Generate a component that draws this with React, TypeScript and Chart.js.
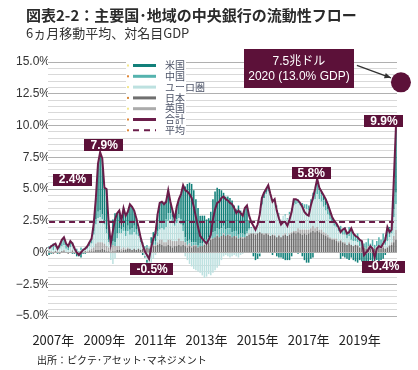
import React, { useEffect, useRef } from 'react';
import { Chart, registerables } from 'chart.js';

Chart.register(...registerables);

// ---- categories: monthly, Nov 2006 .. Jun 2020 ----
const FIRST_YEAR = 2006;
const FIRST_MONTH = 11;
const MONTH_COUNT = 164;
const MONTHS: string[] = [];
for (let k = 0; k < MONTH_COUNT; k++) {
  const m0 = FIRST_MONTH - 1 + k;
  const y = FIRST_YEAR + Math.floor(m0 / 12);
  const m = (m0 % 12) + 1;
  MONTHS.push(`${y}-${m < 10 ? '0' + m : m}`);
}

const TICK_KEYS = ['2007-01', '2009-01', '2011-01', '2013-01', '2015-01', '2017-01', '2019-01'];
const TICK_TEXT = ['2007年', '2009年', '2011年', '2013年', '2015年', '2017年', '2019年'];

// ---- series (% of nominal GDP, 6m moving average) ----
const TOTAL = [
  0.3, 0.5, 0.6, 0.7, 0.3, 0.6, 1.0, 1.2, 0.7, 0.5, 0.9, 0.7,
  0.3, 0.0, -0.2, 0.0, 0.2, 0.3, 0.5, 0.8, 1.1, 2.3, 4.3, 7.0,
  7.9, 7.4, 5.1, 5.0, 2.3, 0.7, 1.7, 2.6, 3.1, 3.3, 2.5, 3.5,
  2.9, 3.2, 3.8, 3.6, 3.3, 2.7, 2.0, 1.2, 0.6, 0.1, -0.2, -0.5,
  0.4, 1.1, 1.5, 3.0, 3.9, 4.0, 3.8, 4.0, 4.9, 4.0, 3.3, 2.6,
  3.6, 4.2, 4.6, 5.3, 4.9, 4.8, 4.6, 4.3, 3.6, 2.8, 2.0, 1.3,
  1.1, 0.9, 0.7, 1.0, 1.4, 2.6, 3.4, 3.9, 4.0, 4.3, 4.4, 4.2,
  4.1, 3.9, 3.8, 3.5, 3.1, 3.3, 3.1, 2.9, 3.5, 3.7, 2.9, 2.4,
  2.1, 1.8, 2.2, 3.0, 4.3, 4.7, 5.0, 5.3, 4.6, 4.0, 4.2, 3.3,
  2.7, 2.2, 2.4, 2.4, 2.1, 2.6, 3.2, 4.2, 4.2, 4.1, 3.9, 3.6,
  3.2, 3.0, 2.9, 3.7, 4.3, 5.0, 5.8, 5.1, 4.8, 4.5, 4.2, 3.8,
  3.3, 2.8, 2.5, 2.3, 2.0, 1.6, 1.8, 1.9, 1.5, 1.6, 1.9, 1.5,
  1.3, 1.2, 1.0, 0.9, -0.2, 0.0, 0.2, 0.5, 0.3, -0.4, 0.3, 0.5,
  0.4, 0.7, 1.0, 2.0, 1.6, 1.8, 5.7, 9.9,
];

const US = [
  -0.2, -0.1, 0.2, 0.0, -0.1, 0.1, 0.1, 0.2, 0.1, 0.1, 0.1, -0.1,
  -0.1, -0.2, -0.2, -0.4, -0.1, -0.1, 0.0, 0.1, 0.1, 0.6, 1.7, 3.8,
  4.6, 4.4, 2.6, 3.2, 1.3, 0.6, 1.7, 2.3, 1.6, 1.4, 0.7, 1.5,
  1.2, 1.1, 2.0, 1.7, 1.2, 0.9, 0.3, 0.1, -0.2, -0.1, -0.2, 0.0,
  0.5, 0.7, 0.8, 1.3, 1.6, 1.6, 1.5, 1.4, 1.8, 0.9, 0.5, 0.1,
  1.0, 1.2, 2.0, 3.2, 4.0, 4.5, 4.5, 4.6, 4.1, 3.4, 2.9, 2.2,
  2.2, 1.9, 1.6, 1.5, 1.7, 2.6, 3.1, 3.2, 3.2, 3.0, 2.6, 2.6,
  2.5, 2.4, 2.5, 2.0, 1.7, 2.3, 1.8, 1.5, 2.1, 2.0, 0.6, 0.0,
  -0.3, -0.6, -0.4, -0.2, 0.5, 0.4, 0.3, 0.2, 0.0, -0.2, 0.0, -0.3,
  -0.4, -0.4, -0.5, -0.6, -0.6, -0.6, -0.3, 0.3, 0.1, -0.1, 0.0, -0.3,
  -0.6, -0.8, -0.8, -0.5, -0.4, 0.1, 0.4, 0.2, 0.2, 0.4, 0.5, 0.4,
  0.4, 0.3, 0.2, 0.2, 0.0, -0.5, -0.3, -0.4, -0.5, -0.6, -0.4, -0.6,
  -0.7, -0.8, -0.6, -0.7, -0.8, -0.7, -0.9, -0.6, -0.7, -0.9, -0.6, -0.7,
  -0.6, -0.5, -0.2, 0.3, 0.1, 0.2, 2.3, 5.2,
];

const CHINA = [
  0.2, 0.2, 0.3, 0.3, 0.2, 0.3, 0.4, 0.4, 0.3, 0.3, 0.4, 0.3,
  0.2, 0.2, 0.1, 0.2, 0.2, 0.1, 0.2, 0.2, 0.3, 0.3, 0.4, 0.5,
  0.5, 0.4, 0.3, 0.3, 0.2, 0.3, 0.3, 0.3, 0.4, 0.4, 0.3, 0.3,
  0.4, 0.4, 0.4, 0.5, 0.5, 0.4, 0.4, 0.3, 0.3, 0.2, 0.2, 0.1,
  0.2, 0.3, 0.3, 0.4, 0.5, 0.5, 0.5, 0.6, 0.6, 0.5, 0.4, 0.4,
  0.3, 0.3, 0.4, 0.4, 0.4, 0.3, 0.3, 0.3, 0.2, 0.2, 0.2, 0.2,
  0.2, 0.3, 0.3, 0.4, 0.4, 0.5, 0.5, 0.5, 0.6, 0.6, 0.6, 0.5,
  0.5, 0.5, 0.4, 0.4, 0.4, 0.3, 0.3, 0.3, 0.2, 0.2, 0.1, 0.1,
  0.0, 0.0, -0.1, -0.1, 0.1, 0.0, 0.1, 0.2, 0.1, 0.0, 0.0, 0.1,
  0.1, 0.0, 0.0, 0.1, 0.1, 0.2, 0.2, 0.2, 0.3, 0.3, 0.2, 0.3,
  0.3, 0.4, 0.4, 0.5, 0.6, 0.7, 0.8, 0.7, 0.6, 0.5, 0.4, 0.4,
  0.3, 0.2, 0.2, 0.1, 0.3, 0.4, 0.4, 0.6, 0.5, 0.7, 0.9, 0.6,
  0.5, 0.7, 0.5, 0.4, 0.3, 0.5, 0.6, 0.4, 0.5, 0.3, 0.4, 0.6,
  0.5, 0.7, 0.6, 0.8, 0.7, 0.6, 0.6, 0.9,
];

const EURO = [
  0.2, 0.3, 0.2, 0.3, 0.1, 0.3, 0.4, 0.4, 0.3, 0.2, 0.4, 0.3,
  0.2, 0.1, 0.0, 0.1, 0.1, 0.2, 0.2, 0.3, 0.4, 1.0, 1.5, 1.9,
  2.0, 1.8, 1.5, 1.0, 0.4, -0.6, -0.9, -0.5, 0.6, 1.0, 1.2, 1.3,
  1.0, 1.3, 1.1, 1.2, 1.3, 1.2, 1.0, 0.6, 0.2, -0.3, -0.6, -0.9,
  -0.8, -0.5, -0.2, 0.5, 0.8, 0.9, 1.0, 1.2, 1.5, 1.6, 1.5, 1.2,
  1.4, 1.6, 1.3, 0.8, -0.3, -0.6, -0.9, -1.1, -1.3, -1.4, -1.5, -1.6,
  -1.8, -2.0, -1.9, -1.7, -1.8, -1.6, -1.4, -1.2, -1.0, -0.6, -0.3, -0.2,
  -0.3, -0.4, -0.3, -0.2, -0.3, -0.4, -0.2, -0.1, 0.0, 0.2, 0.3, 0.4,
  0.5, 0.6, 0.8, 1.0, 2.2, 2.8, 3.1, 3.3, 3.2, 2.8, 2.8, 2.4,
  1.6, 1.4, 1.5, 1.4, 1.3, 1.5, 1.7, 2.0, 2.1, 2.0, 1.9, 1.8,
  1.7, 1.6, 1.5, 1.8, 2.0, 2.3, 2.6, 2.4, 2.2, 2.0, 1.8, 1.6,
  1.4, 1.2, 1.0, 0.9, 0.8, 0.7, 0.6, 0.6, 0.5, 0.5, 0.4, 0.4,
  0.3, 0.2, 0.1, 0.0, -0.1, -0.1, 0.0, 0.0, 0.1, 0.0, 0.1, 0.2,
  0.2, 0.3, 0.3, 0.5, 0.6, 0.7, 1.5, 2.0,
];

const JAPAN = [
  0.1, 0.0, -0.1, 0.1, 0.0, -0.1, 0.1, 0.1, 0.0, -0.1, 0.0, 0.1,
  0.0, -0.1, -0.1, 0.0, 0.0, 0.1, 0.0, 0.1, 0.1, 0.1, 0.2, 0.2,
  0.2, 0.3, 0.2, 0.1, 0.1, 0.0, 0.1, 0.1, 0.2, 0.2, 0.1, 0.2,
  0.2, 0.3, 0.3, 0.2, 0.3, 0.2, 0.3, 0.2, 0.3, 0.3, 0.4, 0.3,
  0.4, 0.5, 0.5, 0.6, 0.7, 0.6, 0.5, 0.5, 0.6, 0.5, 0.4, 0.5,
  0.5, 0.6, 0.5, 0.6, 0.5, 0.4, 0.5, 0.4, 0.5, 0.5, 0.4, 0.5,
  0.5, 0.6, 0.7, 0.8, 1.0, 1.1, 1.2, 1.3, 1.2, 1.3, 1.4, 1.3,
  1.4, 1.3, 1.2, 1.3, 1.2, 1.1, 1.2, 1.1, 1.2, 1.3, 1.4, 1.5,
  1.5, 1.4, 1.5, 1.6, 1.5, 1.4, 1.5, 1.4, 1.3, 1.4, 1.3, 1.2,
  1.3, 1.2, 1.3, 1.4, 1.3, 1.4, 1.5, 1.6, 1.5, 1.6, 1.5, 1.4,
  1.5, 1.4, 1.5, 1.6, 1.7, 1.6, 1.7, 1.6, 1.5, 1.4, 1.3, 1.2,
  1.1, 1.0, 1.0, 0.9, 0.8, 0.9, 0.8, 0.7, 0.6, 0.7, 0.6, 0.5,
  0.6, 0.5, 0.4, 0.5, 0.4, 0.3, 0.4, 0.3, 0.4, 0.3, 0.3, 0.4,
  0.3, 0.4, 0.3, 0.4, 0.5, 0.6, 0.8, 1.0,
];

const UK = [
  0.0, 0.1, 0.0, 0.0, 0.1, 0.0, 0.0, 0.1, 0.0, 0.0, 0.0, 0.1,
  0.0, 0.0, 0.0, 0.1, 0.0, 0.0, 0.1, 0.1, 0.2, 0.3, 0.5, 0.6,
  0.6, 0.5, 0.5, 0.4, 0.3, 0.4, 0.5, 0.4, 0.3, 0.3, 0.2, 0.2,
  0.1, 0.1, 0.0, 0.0, 0.0, 0.0, 0.0, 0.0, 0.0, 0.0, 0.0, 0.0,
  0.1, 0.1, 0.1, 0.2, 0.3, 0.4, 0.3, 0.3, 0.4, 0.5, 0.5, 0.4,
  0.4, 0.5, 0.4, 0.3, 0.3, 0.2, 0.2, 0.1, 0.1, 0.1, 0.0, 0.0,
  0.0, 0.1, 0.0, 0.0, 0.1, 0.0, 0.0, 0.1, 0.0, 0.0, 0.1, 0.0,
  0.0, 0.1, 0.0, 0.0, 0.1, 0.0, 0.0, 0.1, 0.0, 0.0, 0.1, 0.0,
  0.0, 0.1, 0.0, 0.0, 0.0, 0.1, 0.0, 0.1, 0.0, 0.0, 0.1, 0.0,
  0.1, 0.0, 0.1, 0.1, 0.0, 0.1, 0.1, 0.1, 0.2, 0.3, 0.3, 0.4,
  0.3, 0.4, 0.3, 0.3, 0.4, 0.3, 0.3, 0.2, 0.3, 0.2, 0.2, 0.2,
  0.1, 0.1, 0.1, 0.2, 0.1, 0.1, 0.0, 0.1, 0.0, 0.1, 0.0, 0.0,
  0.0, 0.1, 0.0, 0.0, 0.0, 0.0, 0.1, 0.0, 0.0, 0.0, 0.1, 0.0,
  0.0, 0.1, 0.0, 0.0, 0.1, 0.2, 0.5, 0.8,
];

const AVERAGE = 2.4;
const PROJECTION = 13.4; // 2020 projection marker (13.0% GDP)

const SERIES_NAMES = ['米国', '中国', 'ユーロ圏', '日本', '英国', '合計', '平均'];

// labelled points: [month index, text, dx, dy]
const CALLOUTS: [number, string, number, number][] = [
  [24, '7.9%', 4, -7],
  [47, '-0.5%', 3, 10],
  [126, '5.8%', -6, -6],
  [153, '-0.4%', 9, 9],
  [163, '9.9%', -12, -6],
];

const C_US = '#12807a';
const C_CN = '#55b3ae';
const C_EU = '#bde1e0';
const C_JP = '#6f6f6f';
const C_UK = '#ababab';
const C_LINE = '#6b1d4a';
const C_BOX = '#5c1139';

const overlay = {
  id: 'overlay',
  beforeDatasetsDraw(chart: any) {
    const { ctx, chartArea } = chart;
    ctx.save();
    ctx.fillStyle = '#ffffff';
    ctx.fillRect(chartArea.left + 78, chartArea.top - 4, 60, 78);
    ctx.restore();
  },
  afterDraw(chart: any) {
    const { ctx, chartArea, scales } = chart;
    const xs = scales.x;
    const ys = scales.y;
    ctx.save();

    // legend
    const colors = [C_US, C_CN, C_EU, C_JP, C_UK, C_LINE, C_LINE];
    const dots = ['#f3e68c', '#e0893a', '#f3e68c', '#d98a3a', '#f3e68c', '#e0893a', '#e0893a'];
    SERIES_NAMES.forEach((name, k) => {
      const y = chartArea.top + 3.5 + k * 10.8;
      ctx.fillStyle = dots[k];
      ctx.fillRect(chartArea.left + 79, y - 1, 2, 2);
      ctx.strokeStyle = colors[k];
      ctx.lineWidth = k === 6 ? 2 : 3;
      ctx.setLineDash(k === 6 ? [6, 5] : []);
      ctx.beginPath();
      ctx.moveTo(chartArea.left + 85, y);
      ctx.lineTo(chartArea.left + 108, y);
      ctx.stroke();
      ctx.setLineDash([]);
      ctx.fillStyle = '#4d5468';
      ctx.font = '10px "Noto Sans CJK JP"';
      ctx.textAlign = 'left';
      ctx.textBaseline = 'middle';
      ctx.fillText(name, chartArea.left + 117, y);
    });

    const box = (cx: number, cy: number, text: string) => {
      ctx.font = 'bold 12px "Liberation Sans", Arial, sans-serif';
      const w = ctx.measureText(text).width + 12;
      const h = 12;
      ctx.fillStyle = C_BOX;
      ctx.fillRect(Math.round(cx - w / 2), Math.round(cy - h / 2), Math.round(w), h);
      ctx.fillStyle = '#ffffff';
      ctx.textAlign = 'center';
      ctx.textBaseline = 'middle';
      ctx.fillText(text, cx, cy + 0.5);
    };

    CALLOUTS.forEach(([i, text, dx, dy]) => {
      const px = xs.getPixelForValue(i);
      const py = ys.getPixelForValue(TOTAL[i]);
      box(px + dx, py + dy, text);
    });
    // average label
    box(chartArea.left + 24.5, ys.getPixelForValue(AVERAGE) - 42.5, AVERAGE.toFixed(1) + '%');

    // projection marker
    const cx = xs.getPixelForValue(MONTH_COUNT - 1) + 5;
    const cy = ys.getPixelForValue(PROJECTION);
    ctx.fillStyle = C_BOX;
    ctx.beginPath();
    ctx.arc(cx, cy, 10, 0, Math.PI * 2);
    ctx.fill();

    // arrow
    const ax0 = cx - 44, ay0 = cy - 17, ax1 = cx - 10, ay1 = cy - 4.5;
    ctx.strokeStyle = '#333333';
    ctx.lineWidth = 1.3;
    ctx.beginPath();
    ctx.moveTo(ax0, ay0);
    ctx.lineTo(ax1, ay1);
    ctx.stroke();
    const ang = Math.atan2(ay1 - ay0, ax1 - ax0);
    ctx.fillStyle = '#333333';
    ctx.beginPath();
    ctx.moveTo(ax1, ay1);
    ctx.lineTo(ax1 - 7 * Math.cos(ang - 0.4), ay1 - 7 * Math.sin(ang - 0.4));
    ctx.lineTo(ax1 - 7 * Math.cos(ang + 0.4), ay1 - 7 * Math.sin(ang + 0.4));
    ctx.closePath();
    ctx.fill();

    // big box
    const bx = cx - 102, by = cy - 13.5;
    ctx.fillStyle = C_BOX;
    ctx.fillRect(Math.round(bx - 55), Math.round(by - 19.5), 110, 39);
    ctx.fillStyle = '#ffffff';
    ctx.textAlign = 'center';
    ctx.textBaseline = 'middle';
    ctx.font = '12px "Liberation Sans", "Noto Sans CJK JP", sans-serif';
    ctx.fillText('7.5兆ドル', bx, by - 7);
    ctx.fillText('2020 (13.0% GDP)', bx, by + 8);

    ctx.restore();
  },
};

export default function App() {
  const ref = useRef<HTMLCanvasElement>(null);

  useEffect(() => {
    if (!ref.current) return;
    const bar = (label: string, data: number[], color: string) => ({
      type: 'bar' as const,
      label,
      data,
      backgroundColor: color,
      borderWidth: 0,
      stack: 'banks',
      order: 2,
      categoryPercentage: 1,
      barPercentage: 0.72,
    });
    const chart = new Chart(ref.current, {
      type: 'bar',
      data: {
        labels: MONTHS,
        datasets: [
          bar('日本', JAPAN, C_JP),
          bar('英国', UK, C_UK),
          bar('ユーロ圏', EURO, C_EU),
          bar('中国', CHINA, C_CN),
          bar('米国', US, C_US),
          {
            type: 'line' as const,
            label: '合計',
            data: TOTAL,
            borderColor: C_LINE,
            borderWidth: 2,
            pointRadius: 0,
            tension: 0,
            stack: 'total',
            order: 0,
          },
          {
            type: 'line' as const,
            label: '平均',
            data: [
              { x: MONTHS[0], y: AVERAGE },
              { x: MONTHS[MONTH_COUNT - 2], y: AVERAGE },
            ] as any,
            borderColor: C_LINE,
            borderWidth: 2,
            borderDash: [6, 4],
            pointRadius: 0,
            stack: 'avg',
            order: 1,
          },
        ] as any,
      },
      options: {
        responsive: false,
        animation: false,
        devicePixelRatio: 1,
        layout: { padding: { top: 62, right: 21, bottom: 0, left: 0 } },
        plugins: {
          legend: { display: false },
          tooltip: { enabled: false },
          title: { display: false },
        },
        scales: {
          x: {
            stacked: true,
            grid: { display: false },
            border: { display: false },
            afterFit: (s: any) => {
              s.height = 54;
            },
            ticks: {
              autoSkip: false,
              maxRotation: 0,
              minRotation: 0,
              padding: 8,
              color: '#222222',
              font: { size: 13, family: '"Noto Sans CJK JP", sans-serif' },
              callback: (_v: any, idx: number) => {
                const k = TICK_KEYS.indexOf(MONTHS[idx]);
                return k >= 0 ? TICK_TEXT[k] : '';
              },
            },
          },
          y: {
            stacked: true,
            min: -5,
            max: 15,
            border: { display: false },
            afterFit: (s: any) => {
              s.width = 48;
            },
            grid: {
              drawTicks: false,
              lineWidth: 1,
              color: (c: any) => {
                const v = c.tick ? c.tick.value : 0;
                return Math.abs(v / 2.5 - Math.round(v / 2.5)) < 1e-6 ? '#b0b0b0' : '#d9d9d9';
              },
            },
            ticks: {
              stepSize: 0.5,
              autoSkip: false,
              maxTicksLimit: 100,
              padding: -2,
              color: '#333333',
              font: { size: 12, family: '"Liberation Sans", Arial, sans-serif' },
              callback: (v: any) => {
                const n = Number(v);
                if (Math.abs(n / 2.5 - Math.round(n / 2.5)) > 1e-6) return '';
                if (Math.abs(n) < 1e-9) return '0%';
                return (n < 0 ? '−' : '') + Math.abs(n).toFixed(1) + '%';
              },
            },
          },
        },
      },
      plugins: [overlay],
    });
    return () => chart.destroy();
  }, []);

  return (
    <div style={{ position: 'fixed', left: 0, top: 0, width: 418, height: 370, background: '#fff' }}>
      <canvas ref={ref} width={418} height={370} style={{ position: 'absolute', left: 0, top: 0 }} />
      <div
        style={{
          position: 'absolute',
          left: 26,
          top: 6,
          fontFamily: '"Noto Sans CJK JP", sans-serif',
          fontWeight: 'bold',
          fontSize: 15,
          lineHeight: '18px',
          color: '#2b2b2b',
          whiteSpace: 'nowrap',
        }}
      >
        図表2-2：主要国･地域の中央銀行の流動性フロー
      </div>
      <div
        style={{
          position: 'absolute',
          left: 26,
          top: 25,
          fontFamily: '"Noto Sans CJK JP", sans-serif',
          fontSize: 13,
          lineHeight: '16px',
          color: '#333',
          whiteSpace: 'nowrap',
        }}
      >
        6ヵ月移動平均、対名目GDP
      </div>
      <div
        style={{
          position: 'absolute',
          left: 37,
          top: 353,
          fontFamily: '"Noto Sans CJK JP", sans-serif',
          fontSize: 10,
          lineHeight: '13px',
          color: '#222',
          whiteSpace: 'nowrap',
        }}
      >
        出所：ピクテ･アセット･マネジメント
      </div>
    </div>
  );
}
